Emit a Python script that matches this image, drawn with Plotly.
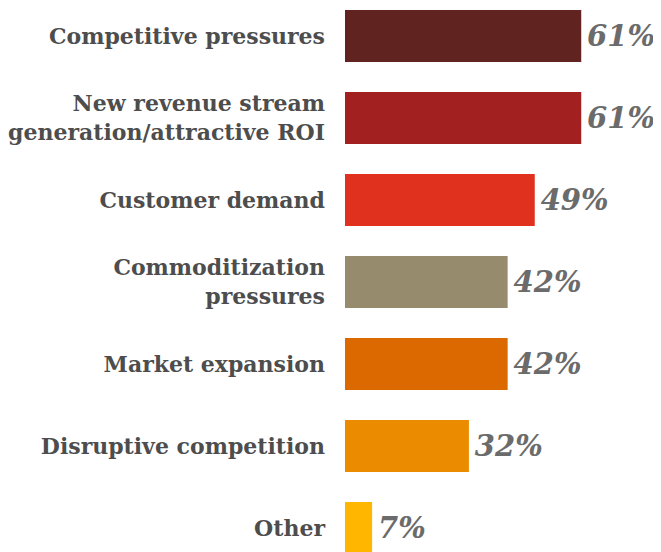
import plotly.graph_objects as go

categories = [
    "Competitive pressures",
    "New revenue stream<br>generation/attractive ROI",
    "Customer demand",
    "Commoditization<br>pressures",
    "Market expansion",
    "Disruptive competition",
    "Other",
]
values = [61, 61, 49, 42, 42, 32, 7]
value_labels = ["61%", "61%", "49%", "42%", "42%", "32%", "7%"]
colors = ["#602320", "#a32020", "#e0301e", "#968c6d", "#dc6900", "#eb8c00", "#ffb600"]

fig = go.Figure(
    go.Bar(
        y=categories,
        x=values,
        orientation="h",
        marker=dict(color=colors, line=dict(width=0)),
        text=value_labels,
        texttemplate="\u200a%{text}",
        textposition="outside",
        cliponaxis=False,
        textfont=dict(family="DejaVu Serif", size=29, color="#6b6b6b", weight="bold", style="italic"),
        hoverinfo="skip",
    )
)

fig.update_layout(
    width=653,
    height=544,
    margin=dict(l=337, r=0, t=0, b=0),
    paper_bgcolor="white",
    plot_bgcolor="white",
    bargap=0.366,
    showlegend=False,
    xaxis=dict(range=[0, 81.6], visible=False, fixedrange=True),
    yaxis=dict(
        type="category",
        categoryorder="array",
        categoryarray=categories,
        range=[6.293, -0.341],
        showgrid=False,
        zeroline=False,
        showline=False,
        ticks="",
        ticklabelstandoff=19,
        tickfont=dict(family="DejaVu Serif", size=22, color="#4d4d4d", weight="bold"),
    ),
)

fig.write_html("out.html")
